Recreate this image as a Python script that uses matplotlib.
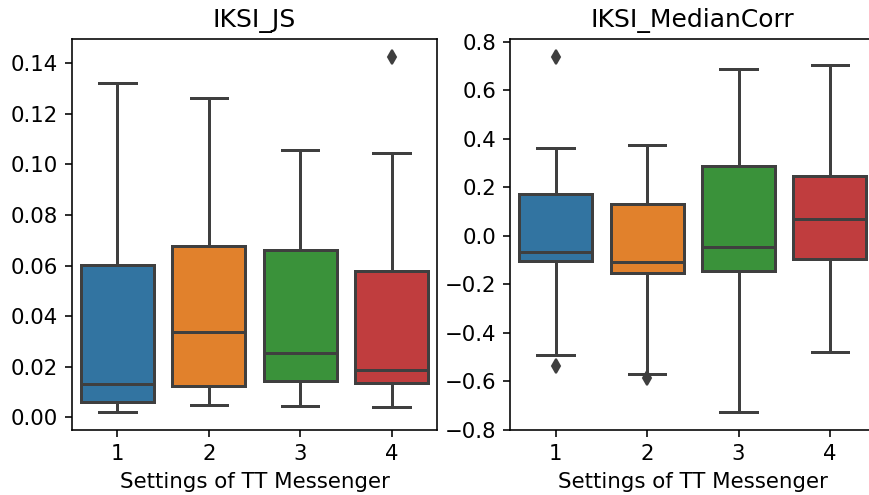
import matplotlib
matplotlib.use("Agg")
import matplotlib.pyplot as plt

# Box statistics (per setting 1..4)
settings = ['1', '2', '3', '4']
colors = ['#3274a1', '#e1812c', '#3a923a', '#c03d3e']
gray = '#3f3f3f'

js_whislo = [0.0020, 0.0050, 0.0044, 0.0042]
js_q1 = [0.0059, 0.0123, 0.0145, 0.0137]
js_med = [0.0132, 0.0336, 0.0256, 0.0186]
js_q3 = [0.0601, 0.0679, 0.0663, 0.0577]
js_whishi = [0.1321, 0.1262, 0.1056, 0.1043]
js_fliers = [[], [], [], [0.1424]]

mc_whislo = [-0.489, -0.570, -0.727, -0.478]
mc_q1 = [-0.103, -0.153, -0.144, -0.095]
mc_med = [-0.065, -0.109, -0.044, 0.070]
mc_q3 = [0.172, 0.133, 0.289, 0.247]
mc_whishi = [0.363, 0.375, 0.687, 0.704]
mc_fliers = [[0.737, -0.535], [-0.584], [], []]

plt.rcParams['xtick.labelsize'] = 10.6
plt.rcParams['ytick.labelsize'] = 10.6
plt.rcParams['axes.labelsize'] = 10.7
plt.rcParams['axes.titlesize'] = 12.5


def make_stats(lo, q1, med, q3, hi, fl):
    stats = []
    for i in range(len(lo)):
        stats.append({'whislo': lo[i], 'q1': q1[i], 'med': med[i],
                      'q3': q3[i], 'whishi': hi[i], 'fliers': fl[i]})
    return stats


def draw(ax, stats, title):
    bp = ax.bxp(stats, positions=range(len(stats)), widths=0.8,
                patch_artist=True, showfliers=True,
                boxprops=dict(edgecolor=gray, linewidth=1.5),
                medianprops=dict(color=gray, linewidth=1.5),
                whiskerprops=dict(color=gray, linewidth=1.5),
                capprops=dict(color=gray, linewidth=1.5),
                flierprops=dict(marker='d', markerfacecolor=gray,
                                markeredgecolor=gray, markersize=5))
    for patch, c in zip(bp['boxes'], colors):
        patch.set_facecolor(c)
    ax.set_xlim(-0.5, len(stats) - 0.5)
    ax.set_xticks(range(len(stats)))
    ax.set_xticklabels(settings)
    ax.set_xlabel("Settings of TT Messenger")
    ax.set_title(title)


fig = plt.figure(figsize=(869 / 144, 495 / 144), dpi=144)
ax1 = fig.add_axes([0.0825, 0.1313, 0.4207, 0.7893])
ax2 = fig.add_axes([0.5869, 0.1313, 0.4207, 0.7893])

draw(ax1, make_stats(js_whislo, js_q1, js_med, js_q3, js_whishi, js_fliers), "IKSI_JS")
draw(ax2, make_stats(mc_whislo, mc_q1, mc_med, mc_q3, mc_whishi, mc_fliers), "IKSI_MedianCorr")

fig.savefig("out.png", dpi=144)
